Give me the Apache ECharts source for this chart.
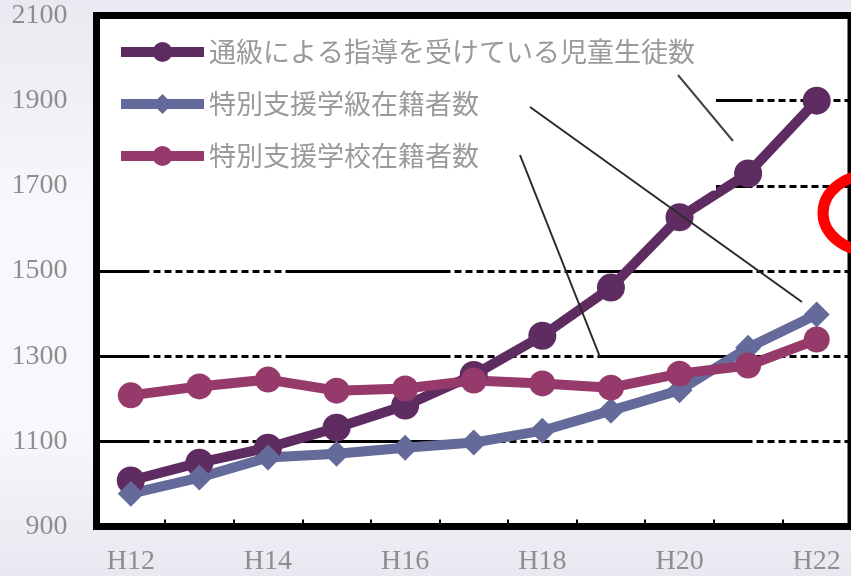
<!DOCTYPE html>
<html>
<head>
<meta charset="utf-8">
<script src="https://cdn.jsdelivr.net/npm/echarts@6/dist/echarts.min.js"></script>
<style>
    html, body { margin: 0; padding: 0; }
    #chart { width: 851px; height: 576px; }
</style>
</head>
<body>
<div id="chart"></div>
<script>
// 年度
var years = ['H12', 'H13', 'H14', 'H15', 'H16', 'H17', 'H18', 'H19', 'H20', 'H21', 'H22'];
// 系列名
var seriesNames = ['通級による指導を受けている児童生徒数', '特別支援学級在籍者数', '特別支援学校在籍者数'];
// 各系列の値
var tsukyuData = [1008, 1050, 1085, 1132, 1184, 1256, 1348, 1461, 1626, 1729, 1900];
var gakkyuData = [977, 1015, 1062, 1071, 1085, 1097, 1125, 1172, 1220, 1320, 1398];
var gakkoData = [1208, 1229, 1245, 1219, 1224, 1243, 1236, 1226, 1259, 1278, 1339];
// 縦軸目盛
var yMin = 900;
var yMax = 2100;
var yStep = 200;

;(function () {
    var colors = ['#5f2c62', '#646a99', '#953a6a'];
    var labelFont = 'Liberation Serif';

    // 実線と破線が混ざった罫線のパターン
    function gridDash(segs) {
        var arr = [];
        segs.forEach(function (s) {
            if (s[0] === 's') {
                arr.push(s[1], 0);
            } else {
                var n = Math.round(s[1] / 11);
                for (var i = 0; i < n; i++) arr.push(7, 4);
            }
        });
        return arr;
    }
    var dash = gridDash([['s', 46], ['d', 146], ['s', 158], ['d', 150], ['s', 148], ['d', 110]]);

    function makeSeries(idx, data, symbol, size) {
        return {
            name: seriesNames[idx],
            type: 'line',
            data: data,
            symbol: symbol,
            symbolSize: size,
            color: colors[idx],
            lineStyle: { width: 10, color: colors[idx], join: 'round' },
            itemStyle: { color: colors[idx], borderWidth: 0 },
            emphasis: { disabled: true },
            animation: false
        };
    }

    var myChart = echarts.init(document.getElementById('chart'));
    var option = {
        backgroundColor: new echarts.graphic.LinearGradient(0, 0, 0, 1, [
            { offset: 0, color: '#ebe8f1' },
            { offset: 0.35, color: '#f8f7fb' },
            { offset: 0.75, color: '#f8f7fb' },
            { offset: 1, color: '#e9e7f0' }
        ]),
        grid: {
            left: 96.5,
            top: 15.5,
            right: -1.5,
            bottom: 49.5,
            show: true,
            backgroundColor: '#fff',
            borderColor: '#000',
            borderWidth: 7
        },
        legend: {
            orient: 'vertical',
            left: 100,
            top: 19,
            padding: [19.5, 21, 21, 16],
            itemGap: 25,
            itemWidth: 83,
            itemHeight: 25,
            backgroundColor: '#fff',
            selectedMode: false,
            lineStyle: { width: 10 },
            textStyle: { fontFamily: 'Noto Sans CJK JP', fontSize: 27, color: '#9a9a9a' },
            data: seriesNames
        },
        xAxis: {
            type: 'category',
            data: years,
            boundaryGap: true,
            axisLine: { show: false },
            axisTick: { show: true, inside: true, length: 7, interval: 0, lineStyle: { color: '#000', width: 2 } },
            axisLabel: { interval: 1, margin: 21, fontFamily: labelFont, fontSize: 28, color: '#8e8e8e' },
            splitLine: { show: false }
        },
        yAxis: {
            type: 'value',
            min: yMin,
            max: yMax,
            interval: yStep,
            axisLine: { show: false },
            axisTick: { show: false },
            axisLabel: {
                margin: 29, fontFamily: labelFont, fontSize: 28, color: '#8e8e8e',
                formatter: function (v) { return String(v); }
            },
            splitLine: { show: true, lineStyle: { color: '#000', width: 3, type: dash } }
        },
        graphic: [
            // 引き出し線
            { type: 'line', z: 100, shape: { x1: 678, y1: 75, x2: 733, y2: 141 }, style: { stroke: '#444', lineWidth: 2 } },
            { type: 'line', z: 100, shape: { x1: 530, y1: 107, x2: 802, y2: 302 }, style: { stroke: '#2a2a2a', lineWidth: 2 } },
            { type: 'line', z: 100, shape: { x1: 520, y1: 155, x2: 600, y2: 357 }, style: { stroke: '#2a2a2a', lineWidth: 2 } },
            // 赤い丸
            { type: 'ellipse', z: 100, shape: { cx: 873, cy: 213, rx: 50, ry: 39 }, style: { fill: 'none', stroke: '#ff0000', lineWidth: 11 } }
        ],
        series: [
            makeSeries(0, tsukyuData, 'circle', 28),
            makeSeries(1, gakkyuData, 'diamond', 26),
            makeSeries(2, gakkoData, 'circle', 26)
        ]
    };
    myChart.setOption(option);
})();
</script>
</body>
</html>
